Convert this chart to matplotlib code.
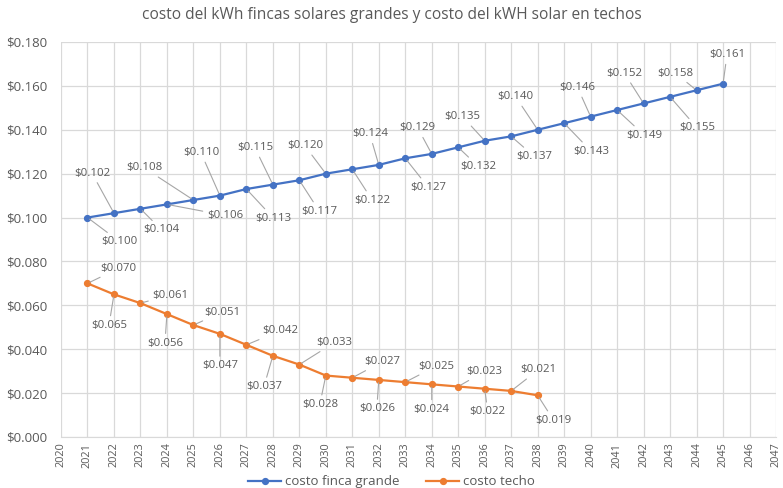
import matplotlib
matplotlib.use("Agg")
import matplotlib.pyplot as plt
from matplotlib.ticker import MultipleLocator, FuncFormatter

plt.rcParams['font.family'] = ['Open Sans', 'DejaVu Sans']

years_big = list(range(2021, 2046))
costo_finca = [0.100, 0.102, 0.104, 0.106, 0.108, 0.110, 0.113, 0.115, 0.117, 0.120,
               0.122, 0.124, 0.127, 0.129, 0.132, 0.135, 0.137, 0.140, 0.143, 0.146,
               0.149, 0.152, 0.155, 0.158, 0.161]
years_techo = list(range(2021, 2039))
costo_techo = [0.070, 0.065, 0.061, 0.056, 0.051, 0.047, 0.042, 0.037, 0.033, 0.028,
               0.027, 0.026, 0.025, 0.024, 0.023, 0.022, 0.021, 0.019]
title = "costo del kWh fincas solares grandes y costo del kWH solar en techos"
x_ticks = list(range(2020, 2048))

# label offsets (pixels, dx right, dy down)
off_big = [(32, 24), (-22, -40), (21, 21), (58, 11), (-49, -32), (-19, -43), (27, 29),
           (-18, -37), (20, 31), (-21, -28), (20, 31), (-9, -31), (23, 29), (-14, -26),
           (20, 19), (-22, -24), (23, 20), (-22, -33), (27, 28), (-13, -29), (27, 25),
           (-19, -30), (27, 31), (-21, -17), (4, -29)]
off_techo = [(31, -15), (-5, 31), (30, -8), (-2, 29), (29, -13), (0, 32), (34, -14),
             (-9, 31), (35, -22), (-6, 29), (30, -16), (-2, 29), (31, -16), (0, 25),
             (26, -15), (3, 23), (27, -21), (16, 25)]

BLUE = '#4472C4'
ORANGE = '#ED7D31'
TXT = '#595959'

fig = plt.figure(figsize=(7.83, 4.88), dpi=100)
ax = fig.add_axes([61/783, 1-437/488, (776-61)/783, (437-42)/488])

ax.plot(years_big, costo_finca, color=BLUE, lw=1.6, marker='o', ms=4.2,
        label='costo finca grande', zorder=3)
ax.plot(years_techo, costo_techo, color=ORANGE, lw=1.6, marker='o', ms=4.2,
        label='costo techo', zorder=3)

def add_labels(xs, ys, offs):
    for x, y, (dx, dy) in zip(xs, ys, offs):
        ax.annotate(f"${y:.3f}", xy=(x, y), xytext=(dx, -dy), textcoords='offset pixels',
                    ha='center', va='center', fontsize=8.2, color=TXT,
                    arrowprops=dict(arrowstyle='-', color='#A6A6A6', lw=0.8,
                                    shrinkA=1, shrinkB=2), zorder=4)

add_labels(years_big, costo_finca, off_big)
add_labels(years_techo, costo_techo, off_techo)

ax.set_xlim(2020, 2047)
ax.set_ylim(0, 0.18)
ax.set_xticks(x_ticks)
ax.set_xticklabels([str(t) for t in x_ticks], rotation=90, fontsize=7.8, color=TXT)
ax.yaxis.set_major_locator(MultipleLocator(0.02))
ax.yaxis.set_major_formatter(FuncFormatter(lambda v, p: f"${v:.3f}"))
ax.tick_params(axis='y', labelsize=9.5, colors=TXT, length=0, pad=10)
ax.tick_params(axis='x', colors=TXT, length=0, pad=4)
ax.grid(True, color='#D9D9D9', lw=0.9)
ax.set_axisbelow(True)
for s in ['top', 'right', 'left']:
    ax.spines[s].set_visible(False)
ax.spines['bottom'].set_color('#D9D9D9')

fig.suptitle(title, x=0.5, y=0.985, fontsize=11.2, color=TXT)

fig.legend(loc='lower center', bbox_to_anchor=(0.5, -0.025), ncol=2, frameon=False,
           fontsize=9.5, labelcolor=TXT, handlelength=2.5, columnspacing=2,
           handletextpad=0.3)

fig.savefig('out.png', dpi=100)
